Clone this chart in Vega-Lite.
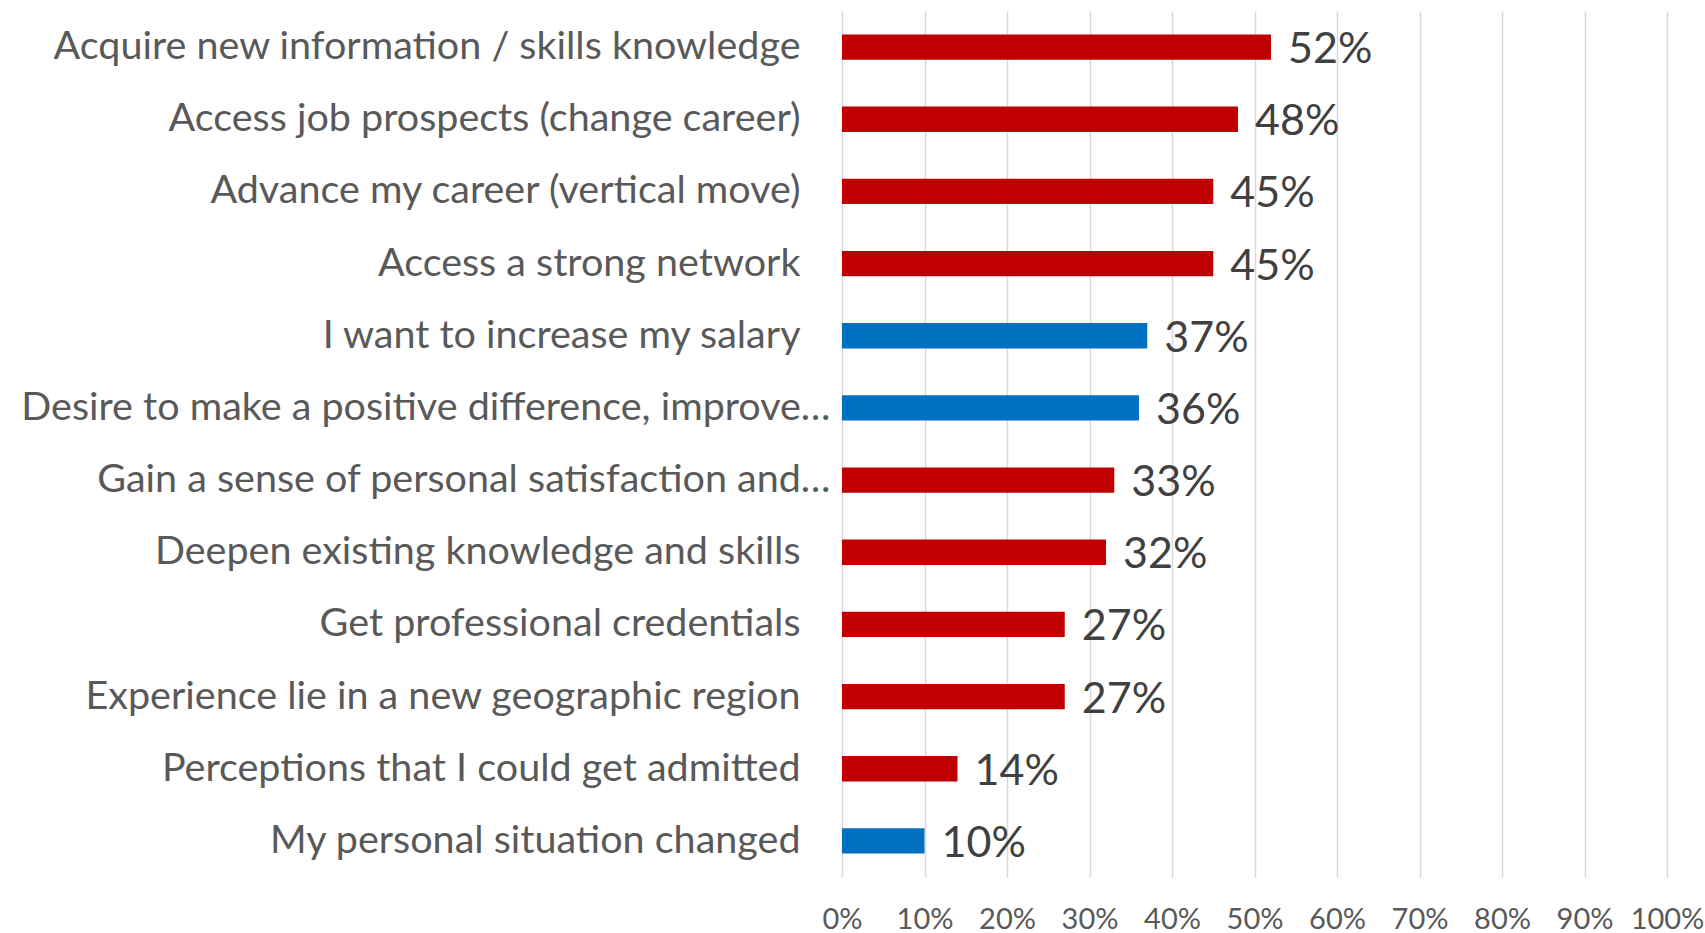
{
  "$schema": "https://vega.github.io/schema/vega-lite/v6.json",
  "autosize": {"type": "none"},
  "padding": {"left": 842, "top": 11, "right": 38, "bottom": 56},
  "width": 825,
  "height": 866,
  "background": "white",
  "config": {"view": {"stroke": null}, "font": "Lato"},
  "data": {"values": [
    {"reason": "Acquire new information / skills knowledge", "value": 0.52, "group": "red"},
    {"reason": "Access job prospects (change career)", "value": 0.48, "group": "red"},
    {"reason": "Advance my career (vertical move)", "value": 0.45, "group": "red"},
    {"reason": "Access a strong network", "value": 0.45, "group": "red"},
    {"reason": "I want to increase my salary", "value": 0.37, "group": "blue"},
    {"reason": "Desire to make a positive difference, improve…", "value": 0.36, "group": "blue"},
    {"reason": "Gain a sense of personal satisfaction and…", "value": 0.33, "group": "red"},
    {"reason": "Deepen existing knowledge and skills", "value": 0.32, "group": "red"},
    {"reason": "Get professional credentials", "value": 0.27, "group": "red"},
    {"reason": "Experience lie in a new geographic region", "value": 0.27, "group": "red"},
    {"reason": "Perceptions that I could get admitted", "value": 0.14, "group": "red"},
    {"reason": "My personal situation changed", "value": 0.10, "group": "blue"}
  ]},
  "encoding": {
    "y": {"field": "reason", "type": "nominal", "sort": null,
      "scale": {"paddingInner": 0.65, "paddingOuter": 0.325},
      "axis": {"title": null, "domain": false, "ticks": false, "labelLimit": 0,
        "labelFont": "Lato", "labelFontSize": 39.5, "labelColor": "#595959",
        "labelPadding": {"condition": {"test": "indexof(datum.value, '…') >= 0", "value": 12}, "value": 42}}},
    "x": {"field": "value", "type": "quantitative",
      "scale": {"domain": [0, 1]},
      "axis": {"title": null, "format": ".0%", "values": [0,0.1,0.2,0.3,0.4,0.5,0.6,0.7,0.8,0.9,1],
        "domain": false, "ticks": false, "grid": true, "gridColor": "#D9D9D9", "gridWidth": 1.5,
        "labelFont": "Lato", "labelFontSize": 29, "labelColor": "#595959", "labelPadding": 28,
        "labelFlush": false, "labelOverlap": false}}
  },
  "layer": [
    {"mark": {"type": "bar"},
     "encoding": {"color": {"field": "group", "type": "nominal",
       "scale": {"domain": ["red", "blue"], "range": ["#C00000", "#0070C0"]}, "legend": null}}},
    {"mark": {"type": "text", "align": "left", "baseline": "middle", "dx": 17, "dy": 3,
      "font": "Lato", "fontSize": 43, "color": "#404040"},
     "encoding": {"text": {"field": "value", "type": "quantitative", "format": ".0%"}}}
  ]
}
